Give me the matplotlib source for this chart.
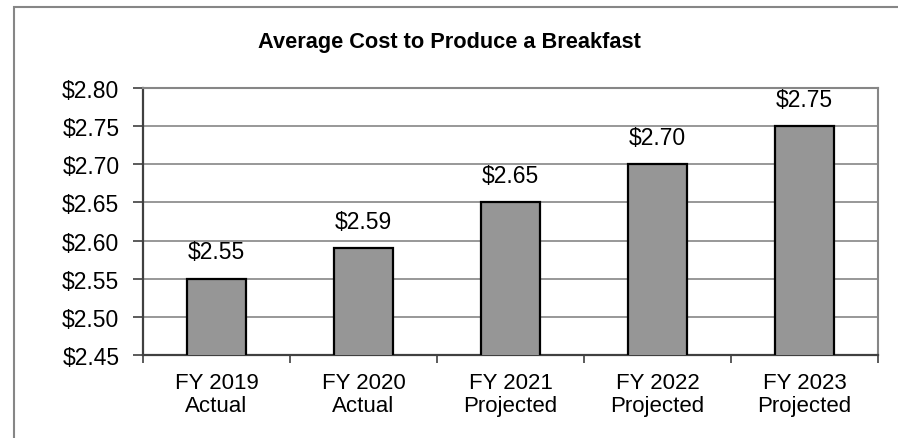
import matplotlib
matplotlib.use("Agg")
import matplotlib.pyplot as plt
from matplotlib.patches import Rectangle
import numpy as np

categories = ["FY 2019\nActual", "FY 2020\nActual", "FY 2021\nProjected", "FY 2022\nProjected", "FY 2023\nProjected"]
values = [2.55, 2.59, 2.65, 2.70, 2.75]
yticks = [2.45, 2.50, 2.55, 2.60, 2.65, 2.70, 2.75, 2.80]
title = "Average Cost to Produce a Breakfast"

plt.rcParams['font.family'] = ['Liberation Sans', 'DejaVu Sans']

W, H = 898, 439
fig = plt.figure(figsize=(W / 100, H / 100), dpi=100)
ax = fig.add_axes([143 / W, (H - 356) / H, (878 - 143) / W, (356 - 89) / H])

x = np.arange(len(categories))
ax.bar(x, values, width=0.40, color="#969696", edgecolor="black", linewidth=1.6, zorder=3)
ax.set_xlim(-0.5, len(categories) - 0.5)
ax.set_ylim(yticks[0], yticks[-1])
ax.set_yticks(yticks)
ax.set_yticklabels([f"${v:.2f}" for v in yticks], fontsize=16.5)
ax.yaxis.grid(True, color="#868686", linewidth=1.2, zorder=0)
ax.set_axisbelow(True)

# category labels centered, ticks between categories
ax.set_xticks(x)
ax.set_xticklabels(categories, fontsize=16, linespacing=1.15)
ax.tick_params(axis="x", length=0, pad=12)
ax.set_xticks(np.arange(len(categories) + 1) - 0.5, minor=True)
ax.tick_params(axis="x", which="minor", length=6, width=1.2, color="#404040", direction="out")
ax.tick_params(axis="y", length=7, width=1.2, color="#404040", direction="out", pad=10)

for s in ["top", "right"]:
    ax.spines[s].set_color("#868686")
    ax.spines[s].set_linewidth(1.5)
for s in ["left", "bottom"]:
    ax.spines[s].set_color("#404040")
    ax.spines[s].set_linewidth(1.6)

for xi, v in zip(x, values):
    ax.annotate(f"${v:.2f}", (xi, v), xytext=(0, 11), textcoords="offset points",
                ha="center", va="bottom", fontsize=16.5)

fig.text(449 / W, 1 - 48 / H, title, ha="center", va="baseline", fontsize=15.7, fontweight="bold")

# outer chart border
fig.patches.append(Rectangle((14 / W, -0.1), 2, 1 - 8 / H + 0.1, transform=fig.transFigure,
                             fill=False, edgecolor="#868686", linewidth=1.5))

fig.savefig("out.png", dpi=100)
